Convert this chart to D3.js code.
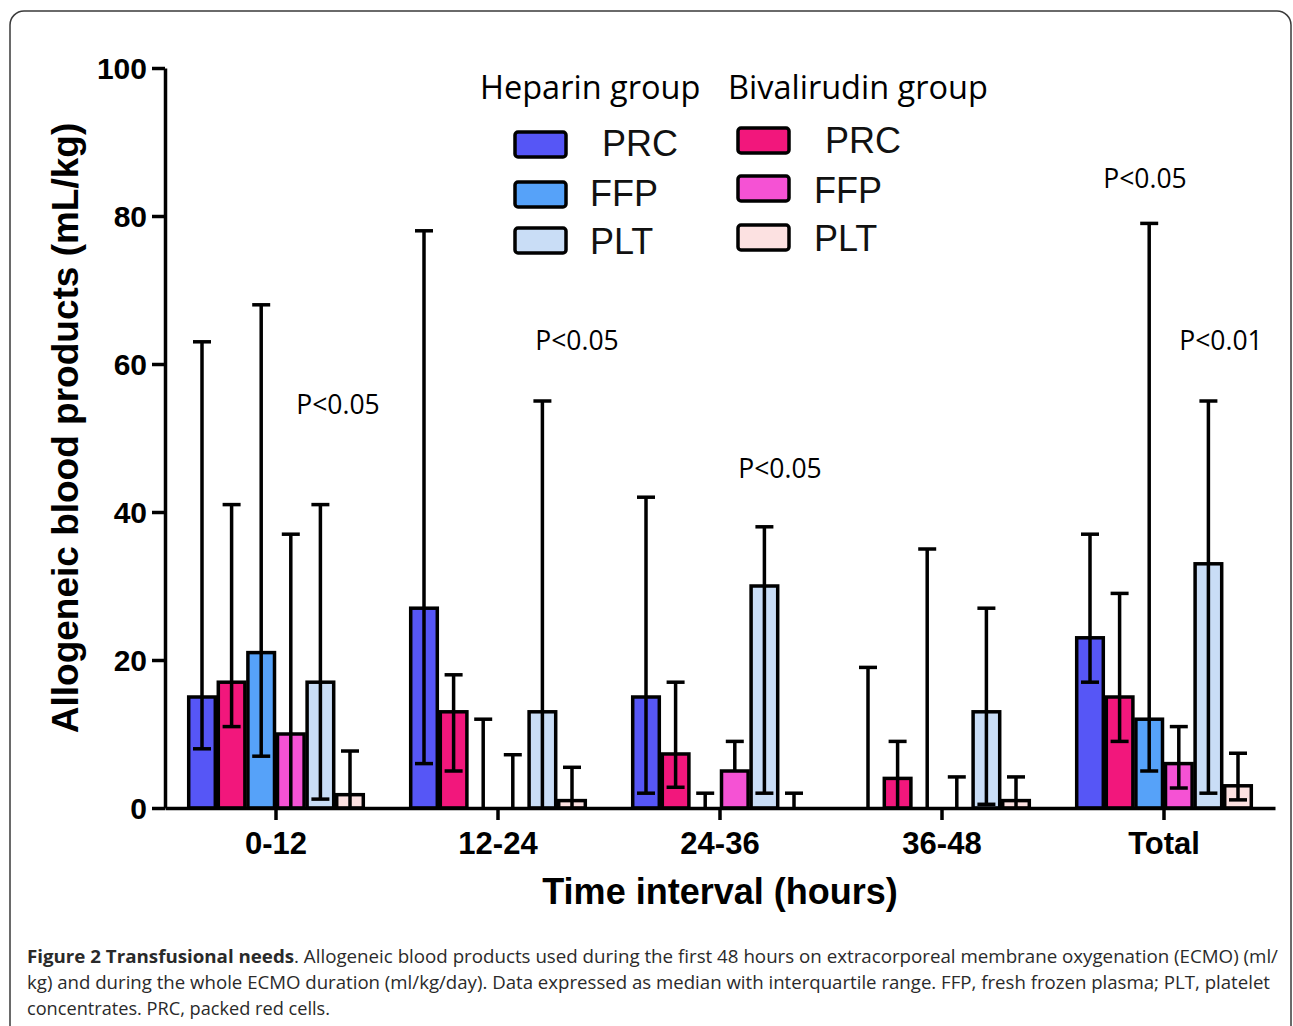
<!DOCTYPE html>
<html><head><meta charset="utf-8">
<script src="https://cdn.jsdelivr.net/npm/d3@7"></script>
<style>body{margin:0;background:#fff} svg{display:block}</style>
</head><body><svg id="c" width="1293" height="1026"></svg>
<script>
// ---------------- data ----------------
const categories = ["0-12", "12-24", "24-36", "36-48", "Total"];
const seriesKeys = ["hepPRC", "bivPRC", "hepFFP", "bivFFP", "hepPLT", "bivPLT"];
const seriesColors = ["#5656F6", "#F2177C", "#56A2F9", "#F552D4", "#C9DDF6", "#FCE1E1"];
// medians
const heparinPRC      = [15, 27, 15, 0, 23];
const bivalirudinPRC  = [17, 13, 7.3, 4, 15];
const heparinFFP      = [21, 0, 0, 0, 12];
const bivalirudinFFP  = [10, 0, 5, 0, 6];
const heparinPLT      = [17, 13, 30, 13, 33];
const bivalirudinPLT  = [1.8, 1, 0, 1, 3];
// lower quartile
const heparinPRCLow     = [8, 6, 2, 0, 17];
const bivalirudinPRCLow = [11, 5, 2.8, 0, 9];
const heparinFFPLow     = [7, 0, 0, 0, 5];
const bivalirudinFFPLow = [0, 0, 5, 0, 2.7];
const heparinPLTLow     = [1.2, 0, 2, 0.5, 2];
const bivalirudinPLTLow = [0, 0, 0, 0, 1.1];
// upper quartile
const heparinPRCHigh     = [63, 78, 42, 19, 37];
const bivalirudinPRCHigh = [41, 18, 17, 9, 29];
const heparinFFPHigh     = [68, 12, 2, 35, 79];
const bivalirudinFFPHigh = [37, 7.2, 9, 4.2, 11];
const heparinPLTHigh     = [41, 55, 38, 27, 55];
const bivalirudinPLTHigh = [7.7, 5.5, 2, 4.2, 7.4];
const yTicks = [0, 20, 40, 60, 80, 100];
// significance annotations
const pLabels = ["P<0.05", "P<0.05", "P<0.05", "P<0.05", "P<0.01"];
const pGroups = ["0-12", "12-24", "24-36", "Total", "Total"];
const pValues = [54.5, 63.2, 45.9, 85, 63.2];
const legendTitles = ["Heparin group", "Bivalirudin group"];
const legendLabels = ["PRC", "FFP", "PLT"];
const captionBold = "Figure 2 Transfusional needs";
const captionLines = [
  ". Allogeneic blood products used during the first 48 hours on extracorporeal membrane oxygenation (ECMO) (ml/",
  "kg) and during the whole ECMO duration (ml/kg/day). Data expressed as median with interquartile range. FFP, fresh frozen plasma; PLT, platelet",
  "concentrates. PRC, packed red cells."
];

const medians = [heparinPRC, bivalirudinPRC, heparinFFP, bivalirudinFFP, heparinPLT, bivalirudinPLT];
const lows = [heparinPRCLow, bivalirudinPRCLow, heparinFFPLow, bivalirudinFFPLow, heparinPLTLow, bivalirudinPLTLow];
const highs = [heparinPRCHigh, bivalirudinPRCHigh, heparinFFPHigh, bivalirudinFFPHigh, heparinPLTHigh, bivalirudinPLTHigh];

const table = [];
categories.forEach((c, ci) => seriesKeys.forEach((k, si) => {
  table.push({cat: c, key: k, color: seriesColors[si], v: medians[si][ci], lo: lows[si][ci], hi: highs[si][ci]});
}));

// ---------------- layout ----------------
const svg = d3.select("#c");
const AX = "'Liberation Sans', Arial, sans-serif";
const OS = "'Open Sans', sans-serif";

// frame
svg.append("rect").attr("x", 10).attr("y", 11).attr("width", 1281).attr("height", 1060)
  .attr("rx", 14).attr("fill", "none").attr("stroke", "#3a3a3a").attr("stroke-width", 1.5);

const x = d3.scaleBand().domain(categories).range([165, 1275]).paddingInner(0.2).paddingOuter(0.1);
const xs = d3.scaleBand().domain(seriesKeys).range([0, x.bandwidth()]);
const y = d3.scaleLinear().domain([0, 100]).range([808, 68]);

const g = svg.append("g");

// bars
g.selectAll("rect.bar").data(table.filter(d => d.v > 0)).join("rect")
  .attr("class", "bar")
  .attr("x", d => x(d.cat) + xs(d.key) + 1.5)
  .attr("width", xs.bandwidth() - 3)
  .attr("y", d => y(d.v))
  .attr("height", d => y(0) - y(d.v))
  .attr("fill", d => d.color).attr("stroke", "#000").attr("stroke-width", 3.5);

// error bars
const cx = d => x(d.cat) + xs(d.key) + xs.bandwidth() / 2;
const eb = g.append("g").attr("stroke", "#000").attr("stroke-width", 3.5);
eb.selectAll("line.w").data(table).join("line")
  .attr("x1", cx).attr("x2", cx).attr("y1", d => y(d.lo)).attr("y2", d => y(d.hi));
eb.selectAll("line.ch").data(table).join("line")
  .attr("x1", d => cx(d) - 9).attr("x2", d => cx(d) + 9).attr("y1", d => y(d.hi)).attr("y2", d => y(d.hi));
eb.selectAll("line.cl").data(table.filter(d => d.lo > 0 && d.lo < d.v)).join("line")
  .attr("x1", d => cx(d) - 9).attr("x2", d => cx(d) + 9).attr("y1", d => y(d.lo)).attr("y2", d => y(d.lo));

// axes
const yAxis = svg.append("g").attr("transform", "translate(165,0)")
  .call(d3.axisLeft(y).tickValues(yTicks).tickSize(13).tickSizeOuter(0).tickPadding(5));
const xAxis = svg.append("g").attr("transform", "translate(0,808)")
  .call(d3.axisBottom(x).tickSize(12).tickSizeOuter(0).tickPadding(8));
[yAxis, xAxis].forEach(a => {
  a.select(".domain").attr("stroke", "#000").attr("stroke-width", 3.5);
  a.selectAll(".tick line").attr("stroke", "#000").attr("stroke-width", 3.5);
  a.selectAll("text").attr("fill", "#000").attr("font-family", AX).attr("font-weight", "bold");
});
yAxis.selectAll("text").attr("font-size", 30).attr("dy", "0.36em");
xAxis.selectAll("text").attr("font-size", 31).attr("dy", "0.85em");

// axis titles
svg.append("text").attr("transform", "translate(78,428) rotate(-90)")
  .attr("text-anchor", "middle").attr("font-family", AX).attr("font-weight", "bold")
  .attr("font-size", 37).attr("fill", "#000").text("Allogeneic blood products (mL/kg)");
svg.append("text").attr("x", 720).attr("y", 904).attr("text-anchor", "middle")
  .attr("font-family", AX).attr("font-weight", "bold").attr("font-size", 36).attr("fill", "#000")
  .text("Time interval (hours)");

// p-value annotations
const pOffsets = [62, 79, 60, -19, 57];
svg.selectAll("text.p").data(pLabels).join("text").attr("class", "p")
  .attr("x", (d, i) => x(pGroups[i]) + x.bandwidth() / 2 + pOffsets[i])
  .attr("y", (d, i) => y(pValues[i])).attr("dy", "0.35em")
  .attr("text-anchor", "middle").attr("font-family", OS).attr("font-size", 26.5).attr("fill", "#000")
  .text(d => d);

// legend
const legendX = [480, 728];
const swatchX = [515, 738];
const swatchY = [[132, 182, 228], [128, 176, 225]];
const labelX = [[602, 590, 590], [825, 814, 814]];
const labelY = [[156, 206, 254], [153, 203, 251]];
legendTitles.forEach((t, gi) => {
  svg.append("text").attr("x", legendX[gi]).attr("y", 99).attr("font-family", OS)
    .attr("font-size", 32.5).attr("fill", "#000").text(t);
  legendLabels.forEach((l, li) => {
    const si = li * 2 + gi;
    svg.append("rect").attr("x", swatchX[gi]).attr("y", swatchY[gi][li]).attr("width", 51).attr("height", 25)
      .attr("rx", 3).attr("fill", seriesColors[si]).attr("stroke", "#000").attr("stroke-width", 3.5);
    svg.append("text").attr("x", labelX[gi][li]).attr("y", labelY[gi][li]).attr("font-family", AX)
      .attr("font-size", 36).attr("fill", "#111").text(l);
  });
});

// caption
const capY = [963, 989, 1015];
const capLen = [1251, 1243, 303];
captionLines.forEach((line, i) => {
  const t = svg.append("text").attr("x", 27).attr("y", capY[i]).attr("font-family", OS)
    .attr("font-size", 17.5).attr("fill", "#2a2a2a")
    .attr("textLength", capLen[i]).attr("lengthAdjust", "spacingAndGlyphs");
  if (i === 0) t.append("tspan").attr("font-weight", "bold").text(captionBold);
  t.append("tspan").text(line);
});
</script>
</body></html>
